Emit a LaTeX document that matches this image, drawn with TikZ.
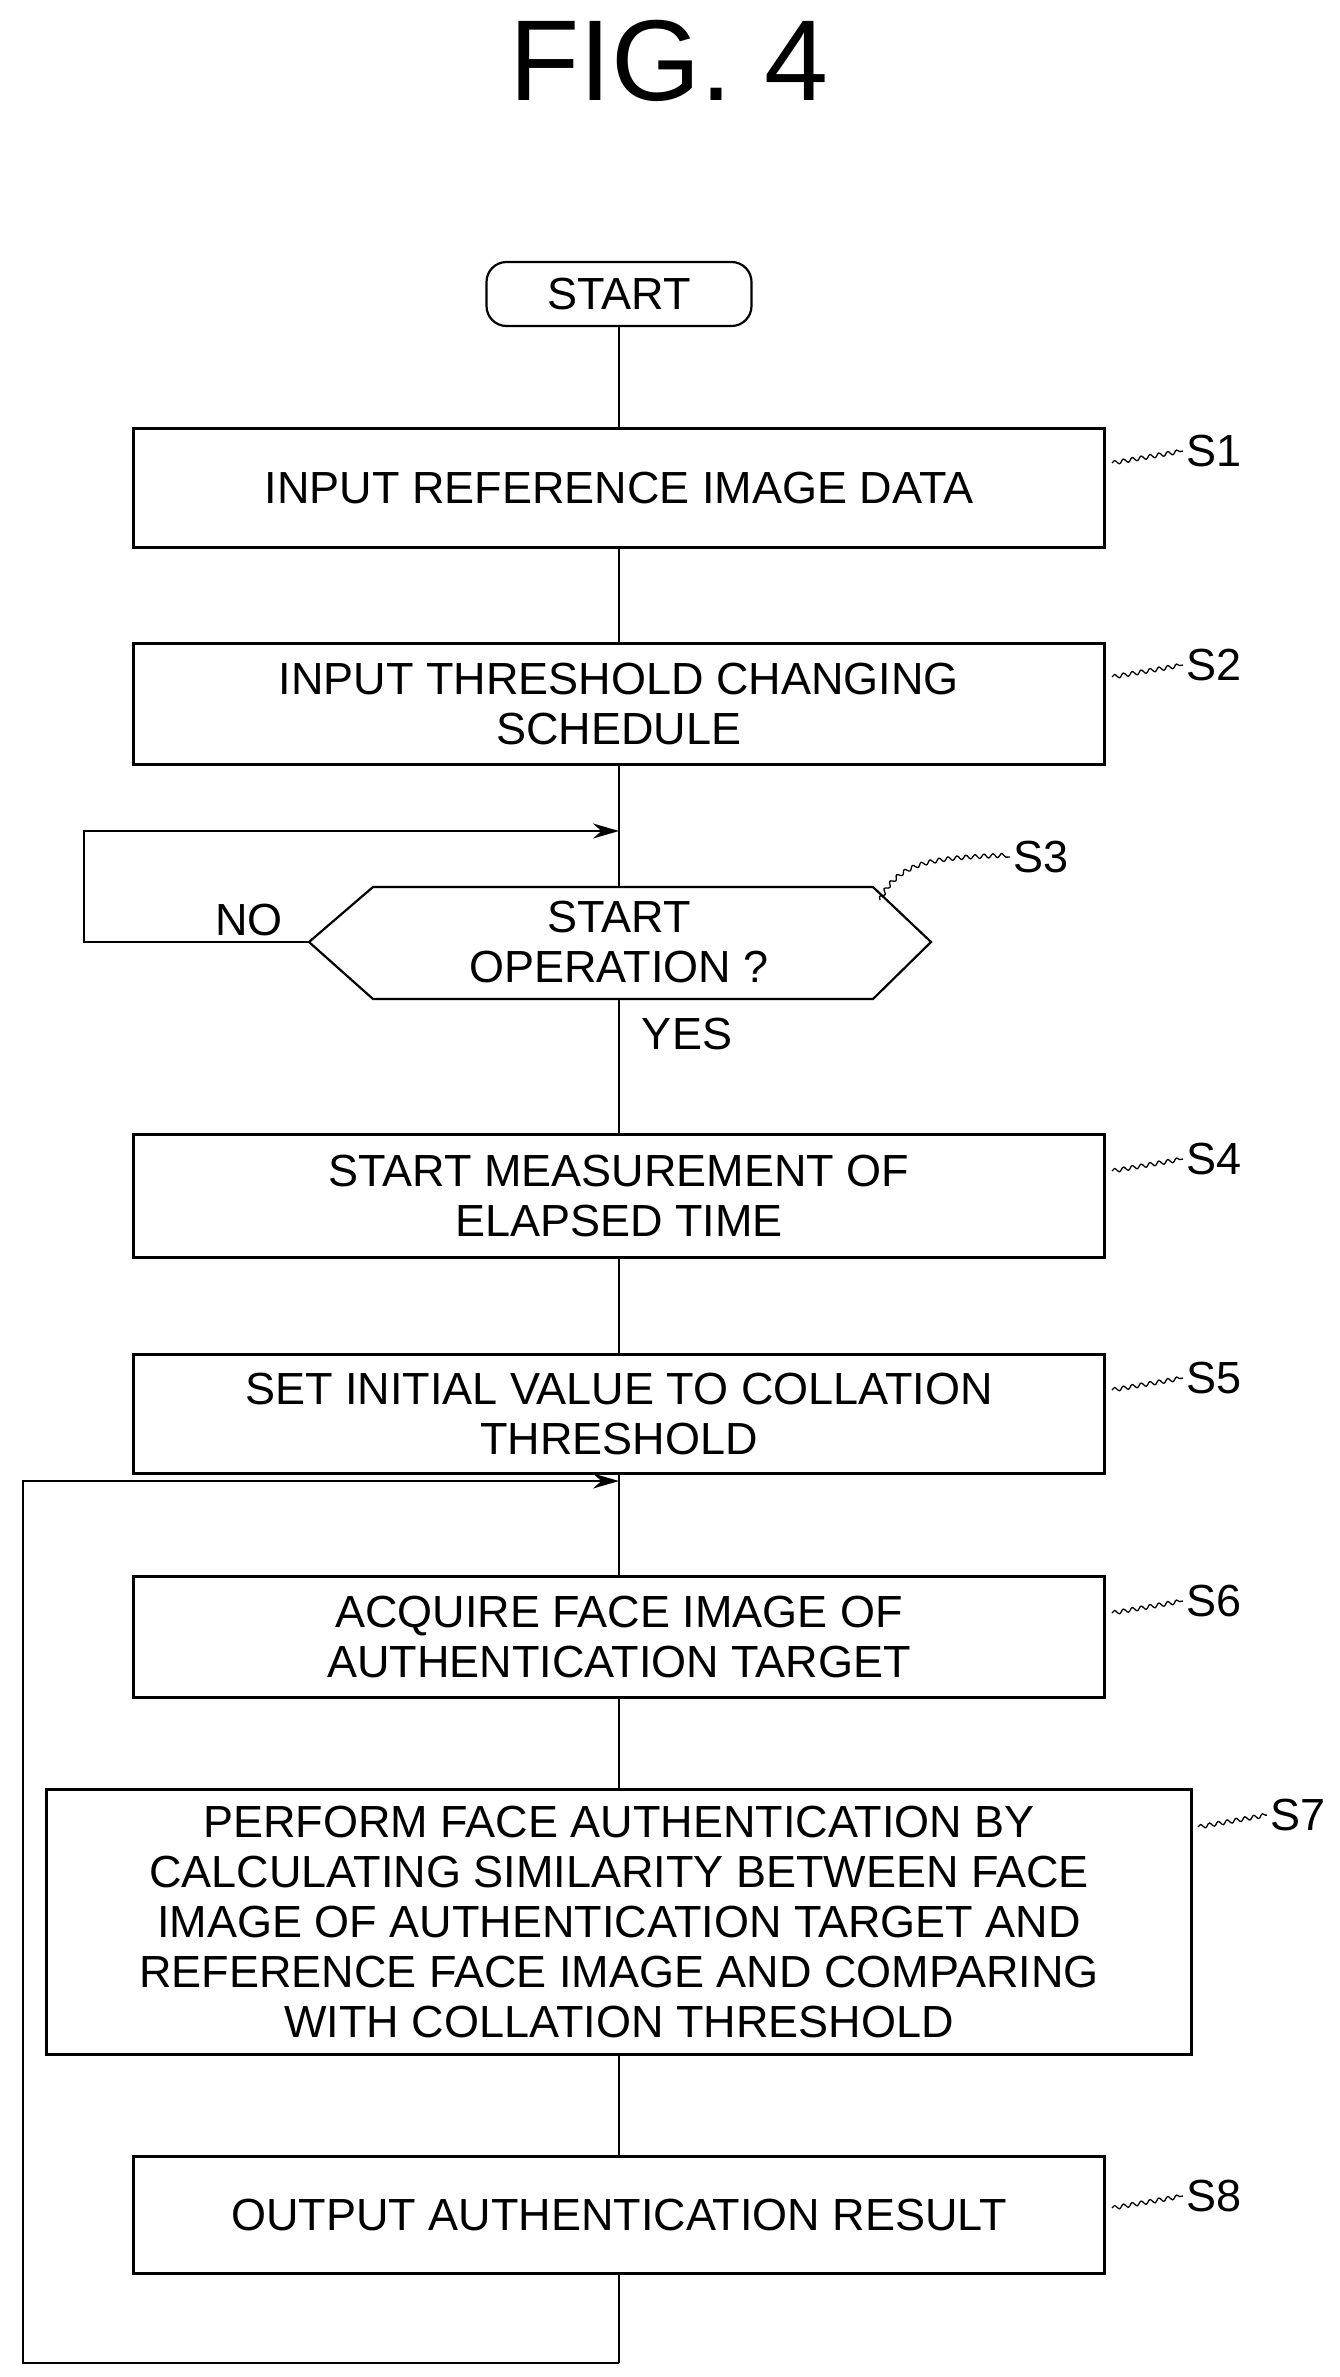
\documentclass[tikz,border=0pt]{standalone}
\usepackage{fontspec}
\setmainfont{Liberation Sans}
\usetikzlibrary{arrows.meta,decorations.pathmorphing}
\begin{document}
\begin{tikzpicture}[x=1pt,y=-1pt,
  box/.style={draw,line width=2.2pt,inner sep=0pt,font=\fontsize{45}{50}\selectfont,align=center},
  ln/.style={line width=2pt},
  arr/.style={ln,-{Stealth[length=26pt,width=15pt]}},
  lab/.style={font=\fontsize{45}{50}\selectfont},
  sq/.style={line width=1.3pt,decorate,decoration={snake,amplitude=2pt,segment length=9pt}}]
\useasboundingbox (0,0) rectangle (1339,2377);
\node[font=\fontsize{115}{120}\selectfont] (title) at (669,61) {FIG. 4};
\node[box,rounded corners=20pt,minimum width=265pt,minimum height=64pt] (start) at (619,294) {START};
\node[box,minimum width=971pt,minimum height=119pt] (s1) at (619,488) {INPUT REFERENCE IMAGE DATA};
\node[box,minimum width=971pt,minimum height=121pt] (s2) at (619,704) {INPUT THRESHOLD CHANGING\\SCHEDULE};
\coordinate (j1) at (619,831);
\draw[line width=2.2pt] (309,942) -- (373,887) -- (873,887) -- (931,942) -- (873,999) -- (373,999) -- cycle;
\node[lab,align=center] (s3) at (619,942) {START\\OPERATION ?};
\coordinate (hl) at (309,942);
\coordinate (ht) at (619,887);
\coordinate (hb) at (619,999);
\coordinate (hr) at (880,900);
\node[box,minimum width=971pt,minimum height=123pt] (s4) at (619,1196) {START MEASUREMENT OF\\ELAPSED TIME};
\node[box,minimum width=971pt,minimum height=119pt] (s5) at (619,1414) {SET INITIAL VALUE TO COLLATION\\THRESHOLD};
\coordinate (j2) at (619,1481);
\node[box,minimum width=971pt,minimum height=121pt] (s6) at (619,1637) {ACQUIRE FACE IMAGE OF\\AUTHENTICATION TARGET};
\node[box,minimum width=1145pt,minimum height=265pt] (s7) at (619,1922) {PERFORM FACE AUTHENTICATION BY\\CALCULATING SIMILARITY BETWEEN FACE\\IMAGE OF AUTHENTICATION TARGET AND\\REFERENCE FACE IMAGE AND COMPARING\\WITH COLLATION THRESHOLD};
\node[box,minimum width=971pt,minimum height=117pt] (s8) at (619,2215) {OUTPUT AUTHENTICATION RESULT};
\coordinate (bot) at (619,2363);
\coordinate (l1) at (84,942); \coordinate (l1t) at (84,831);
\coordinate (l2) at (23,2363); \coordinate (l2t) at (23,1481);
\draw[ln] (start) -- (s1);
\draw[ln] (s1) -- (s2);
\draw[ln] (s2) -- (ht);
\draw[ln] (hb) -- (s4);
\draw[ln] (s4) -- (s5);
\draw[ln] (s5) -- (s6);
\draw[ln] (s6) -- (s7);
\draw[ln] (s7) -- (s8);
\draw[ln] (s8) -- (bot);
\draw[arr] (hl) -- (l1) -- (l1t) -- (j1);
\draw[arr] (bot) -- (l2) -- (l2t) -- (j2);
\node[lab] (no) at (249,920) {NO};
\node[lab] (yes) at (687,1034) {YES};
\node[lab] (t1) at (1214,451) {S1};
\node[lab] (t2) at (1214,665) {S2};
\node[lab] (t3) at (1041,857) {S3};
\node[lab] (t4) at (1214,1159) {S4};
\node[lab] (t5) at (1214,1378) {S5};
\node[lab] (t6) at (1214,1601) {S6};
\node[lab] (t7) at (1298,1815) {S7};
\node[lab] (t8) at (1214,2196) {S8};
\draw[sq] (1112,463) -- (t1.west);
\draw[sq] (1112,677) -- (t2.west);
\draw[sq] (hr) .. controls (900,860) and (940,860) .. (t3.west);
\draw[sq] (1112,1171) -- (t4.west);
\draw[sq] (1112,1390) -- (t5.west);
\draw[sq] (1112,1613) -- (t6.west);
\draw[sq] (1198,1827) -- (t7.west);
\draw[sq] (1112,2208) -- (t8.west);
\end{tikzpicture}
\end{document}
